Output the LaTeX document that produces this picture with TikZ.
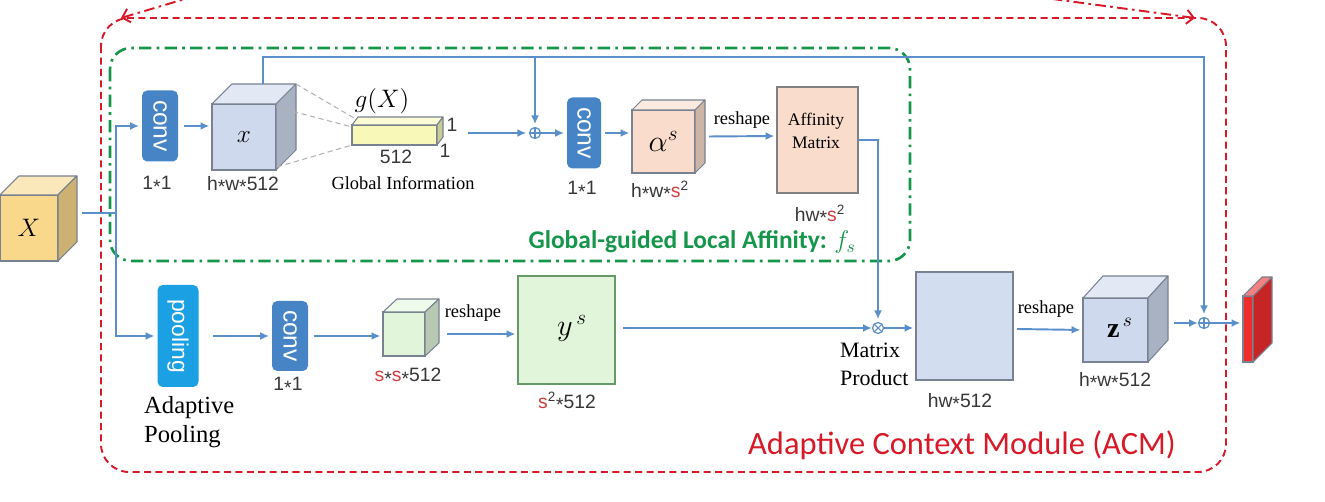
\documentclass[tikz,border=0pt]{standalone}
\usepackage{fontspec}
\setmainfont{Liberation Serif}
\newfontfamily\arialf{Liberation Sans}
\newfontfamily\calibf{Carlito}
\usepackage{graphicx}
\usetikzlibrary{arrows.meta,positioning,calc}

\definecolor{lineblue}{RGB}{91,143,201}
\definecolor{convblue}{RGB}{70,132,198}
\definecolor{poolblue}{RGB}{28,160,228}
\definecolor{acmred}{RGB}{215,25,40}
\definecolor{glagreen}{RGB}{22,150,75}
\definecolor{sred}{RGB}{215,60,60}
\definecolor{txtgray}{RGB}{55,55,55}
\definecolor{edgegray}{RGB}{120,130,145}
\definecolor{xblue}{RGB}{206,217,237}
\definecolor{Xyellow}{RGB}{249,216,140}
\definecolor{gyellow}{RGB}{248,248,185}
\definecolor{apeach}{RGB}{249,220,203}
\definecolor{sgreen}{RGB}{225,245,218}
\definecolor{hwblue}{RGB}{211,221,240}
\definecolor{outred}{RGB}{240,45,45}

\newcommand{\px}{0.02cm}
\newcommand{\rs}{\textcolor{sred}{s}}
\newcommand{\st}{\raisebox{-0.35ex}{*}}
% cube: name, left, top, width, height, depth x, depth y, colour
\newcommand{\blockcube}[8]{%
  \node[face, fill=#8, minimum width=#4*\px, minimum height=#5*\px, anchor=north west] (#1) at (#2,#3) {};
  \filldraw[fill=#8!60!white, draw=edgegray, line width=0.6pt, line join=round]
    (#1.north west) -- ++(#6,-#7) -- ++(#4,0) -- (#1.north east) -- cycle;
  \filldraw[fill=#8!82!black, draw=edgegray, line width=0.6pt, line join=round]
    (#1.north east) -- ++(#6,-#7) -- ++(0,#5) -- (#1.south east) -- cycle;
}

\tikzset{
  face/.style={draw=edgegray, line width=0.6pt, inner sep=0, outer sep=0},
  conn/.style={draw=lineblue, line width=1.1pt},
  arr/.style={conn, -{Latex[length=5pt,width=4.5pt]}, shorten >=1.5pt},
  dline/.style={draw=gray!60, line width=0.6pt, dash pattern=on 3pt off 2pt},
  convbox/.style={fill=convblue, rounded corners=3pt, text=white, inner sep=0,
    font=\arialf\fontsize{14}{14}\selectfont},
  opnode/.style={circle, draw=lineblue, line width=0.7pt, fill=white, inner sep=0,
    minimum size=0.22cm},
  plusop/.style={opnode, path picture={
    \draw[lineblue, line width=0.6pt] (path picture bounding box.north) -- (path picture bounding box.south)
      (path picture bounding box.west) -- (path picture bounding box.east);}},
  timesop/.style={opnode, path picture={
    \draw[lineblue, line width=0.6pt] (path picture bounding box.north west) -- (path picture bounding box.south east)
      (path picture bounding box.south west) -- (path picture bounding box.north east);}},
  sz/.style={font=\arialf\fontsize{11}{13}\selectfont, text=txtgray},
  tm/.style={font=\fontsize{10.5}{12}\selectfont},
}

\begin{document}
\begin{tikzpicture}[x=0.02cm, y=-0.02cm]
  \useasboundingbox (0,0) rectangle (1325,502);

  % module frames
  \draw[acmred, line width=1.1pt, dash pattern=on 4pt off 2.5pt, rounded corners=16pt]
    (101,18) rectangle (1226,472);
  \draw[acmred, line width=1.1pt, dash pattern=on 6pt off 2.5pt on 1.5pt off 2.5pt, {Straight Barb[length=4pt]}-]
    (121,18) -- (195,-4);
  \draw[acmred, line width=1.1pt, dash pattern=on 6pt off 2.5pt on 1.5pt off 2.5pt, -{Straight Barb[length=4pt]}]
    (1030,-4) -- (1195,18);
  \draw[glagreen, line width=1.5pt, dash pattern=on 7pt off 3pt on 1.5pt off 3pt, rounded corners=12pt]
    (110,48) rectangle (910,261);

  % input
  \blockcube{Xc}{0}{195}{58}{66}{19}{19}{Xyellow}
  \node[font=\fontsize{15}{15}\selectfont] (Xlab) at (Xc.center) {$X$};
  \coordinate (split) at (116,213);

  % global-guided local affinity branch
  \node[convbox, minimum width=36*\px, minimum height=71*\px] (conv1) at (160,126) {\rotatebox{-90}{conv}};
  \node[sz] (k1) at (157,185) {1\st1};
  \blockcube{xc}{212}{104}{64}{66}{20}{20}{xblue}
  \node[font=\fontsize{15}{15}\selectfont] (xlab) at (xc.center) {$x$};
  \node[sz] (xdim) at (243,185) {h\st w\st512};
  \blockcube{gbar}{352}{125}{85}{20}{6}{8}{gyellow}
  \node[font=\fontsize{14}{14}\selectfont] (glab) at (382,101) {$g(X)$};
  \node[sz] (g1a) at (452,125) {1};
  \node[sz] (g1b) at (445,151) {1};
  \node[sz] (g512) at (396,157) {512};
  \node[tm] (ginfo) at (403,183) {Global Information};
  \node[plusop] (plus1) at (535,133) {};
  \node[convbox, minimum width=34*\px, minimum height=71*\px] (conv2) at (584,133) {\rotatebox{-90}{conv}};
  \node[sz] (k2) at (582,190) {1\st1};
  \blockcube{al}{632}{110}{63}{63}{10}{10}{apeach}
  \node[font=\fontsize{17}{17}\selectfont] (allab) at (al.center) {$\alpha^s$};
  \node[sz] (aldim) at (660,191) {h\st w\st\rs\textsuperscript{2}};
  \node[tm] (rs1) at (742,120) {reshape};
  \node[face, draw=gray, fill=apeach, minimum width=81*\px, minimum height=106*\px, anchor=north west] (aff) at (777,87) {};
  \node[font=\fontsize{10}{13}\selectfont, align=center] (afftxt) at (816,131) {Affinity\\Matrix};
  \node[sz] (affdim) at (820,215) {hw\st\rs\textsuperscript{2}};
  \node[font=\calibf\bfseries\fontsize{14.5}{16}\selectfont, text=glagreen, anchor=east] (glalab) at (862,242)
    {Global-guided Local Affinity: $f_s$};

  % pooling branch
  \node[convbox, fill=poolblue, minimum width=41*\px, minimum height=102*\px,
    font=\arialf\fontsize{13}{13}\selectfont] (pool) at (178,336) {\rotatebox{-90}{pooling}};
  \node[font=\fontsize{14}{16.5}\selectfont, align=left, anchor=west] (aplab) at (138,422) {Adaptive\\Pooling};
  \node[convbox, minimum width=36*\px, minimum height=70*\px] (conv3) at (290,336) {\rotatebox{-90}{conv}};
  \node[sz] (k3) at (288,386) {1\st1};
  \blockcube{sc}{383}{312}{42}{44}{14}{13}{sgreen}
  \node[sz] (scdim) at (408,377) {\rs\st\rs\st512};
  \node[tm] (rs2) at (473,313) {reshape};
  \node[face, draw=gray!80!green, fill=sgreen, minimum width=97*\px, minimum height=108*\px, anchor=north west] (yb) at (518,276) {};
  \node[font=\fontsize{17}{17}\selectfont] (ylab) at (572,328) {$y^{\,s}$};
  \node[sz] (ydim) at (567,402) {\rs\textsuperscript{2}\st512};
  \node[timesop] (times) at (878,328) {};
  \node[font=\fontsize{12.5}{16}\selectfont, align=left, anchor=west] (mplab) at (834,364) {Matrix\\Product};
  \node[face, fill=hwblue, minimum width=97*\px, minimum height=108*\px, anchor=north west] (hw) at (916,272) {};
  \node[sz] (hwdim) at (960,402) {hw\st512};
  \node[tm] (rs3) at (1046,309) {reshape};
  \blockcube{zc}{1083}{298}{65}{64}{20}{22}{xblue}
  \node[font=\fontsize{16}{16}\selectfont] (zlab) at (1120,328) {\textbf{z}$^{\,s}$};
  \node[sz] (zdim) at (1115,381) {h\st w\st512};
  \node[plusop] (plus2) at (1204,323) {};
  \blockcube{outb}{1243}{296}{10}{66}{19}{19}{outred}
  \node[font=\calibf\fontsize{18.5}{20}\selectfont, text=acmred] (acm) at (962,445) {Adaptive Context Module (ACM)};

  % connectors
  \draw[conn] ($(Xc.east |- split)+(24,0)$) -- (split);
  \draw[arr] (split) |- (conv1.west);
  \draw[arr] (split) |- (pool.west);
  \draw[arr, shorten <=3pt] (conv1.east) -- (conv1.east -| xc.west);
  \draw[dline] ($(xc.north east)+(20,-20)$) -- ($(gbar.north west)+(2,-7)$);
  \draw[dline] ($(xc.north east)+(0,3)$) -- ($(gbar.north west)+(0,2)$);
  \draw[dline] ($(xc.south east)+(1,-3)$) -- (gbar.south west);
  \draw[arr] ($(gbar.east)+(31,-2)$) -- (plus1);
  \coordinate (xtop) at (263,84);
  \coordinate (bus) at (1204,57);
  \draw[arr] (xtop) |- (bus) -- (plus2);
  \draw[arr] (plus1 |- bus) -- (plus1);
  \draw[arr] (plus1) -- (conv2);
  \draw[arr, shorten <=2pt] (conv2.east) -- (conv2.east -| al.west);
  \draw[arr] ($(al.east)+(14,-5)$) -- ($(aff.west)+(0,-4)$);
  \draw[arr] (aff.east) -| (times);
  \draw[arr, shorten <=8pt] (pool) -- (conv3);
  \draw[arr, shorten <=3pt] (conv3.east) -- (conv3.east -| sc.west);
  \draw[arr] ($(sc.east)+(22,0)$) -- (sc.east -| yb.west);
  \draw[conn, -{Latex[length=5pt,width=4.5pt]}] ($(yb.east)+(8,-2)$) -- (times);
  \draw[arr] (times) -- (times -| hw.west);
  \draw[arr] ($(hw.east)+(4,3)$) -- (zc.west);
  \draw[conn, -{Latex[length=5pt,width=4.5pt]}] ($(zc.east)+(26,-7)$) -- (plus2);
  \draw[arr] (plus2) -- (plus2 -| outb.west);
\end{tikzpicture}
\end{document}
